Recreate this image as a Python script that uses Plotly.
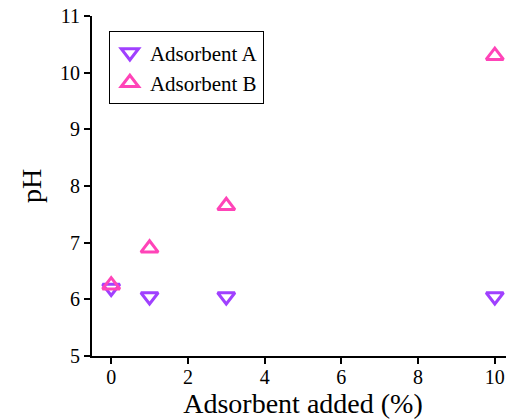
import plotly.graph_objects as go

x_vals = [0, 1, 3, 10]
ph_a = [6.2, 6.05, 6.05, 6.05]
ph_b = [6.25, 6.9, 7.65, 10.3]
x_ticks = [0, 2, 4, 6, 8, 10]
y_ticks = [5, 6, 7, 8, 9, 10, 11]

font_family = "Liberation Serif"

fig = go.Figure()
fig.add_trace(go.Scatter(
    x=x_vals, y=ph_a, mode="markers", name="Adsorbent A",
    marker=dict(symbol="triangle-down-open", size=15, color="#A040FF",
                line=dict(width=3, color="#A040FF")),
    cliponaxis=False,
))
fig.add_trace(go.Scatter(
    x=x_vals, y=ph_b, mode="markers", name="Adsorbent B",
    marker=dict(symbol="triangle-up-open", size=15, color="#FF44B8",
                line=dict(width=3, color="#FF44B8")),
    cliponaxis=False,
))

fig.update_layout(
    width=506, height=412,
    margin=dict(l=84, r=0, t=8, b=64, autoexpand=False),
    paper_bgcolor="white", plot_bgcolor="white",
    font=dict(family=font_family, size=20, color="black"),
    showlegend=True,
    legend=dict(
        x=0.04, y=0.955, xanchor="left", yanchor="top",
        bordercolor="black", borderwidth=1, bgcolor="white",
        font=dict(family=font_family, size=21),
        itemwidth=30, tracegroupgap=0,
    ),
    xaxis=dict(
        range=[-0.5, 10.5], tickvals=x_ticks, showgrid=False, zeroline=False,
        showline=True, linecolor="black", linewidth=2, automargin=False,
        ticks="outside", ticklen=6, tickwidth=2, tickcolor="black",
        ticklabeloverflow="allow", ticklabelstandoff=-4,
        title=dict(text="Adsorbent added (%)", font=dict(family=font_family, size=28), standoff=6),
        tickfont=dict(family=font_family, size=20),
    ),
    yaxis=dict(
        range=[5, 11], tickvals=y_ticks, showgrid=False, zeroline=False,
        showline=True, linecolor="black", linewidth=2, automargin=False,
        ticks="outside", ticklen=6, tickwidth=2, tickcolor="black",
        ticklabeloverflow="allow",
        title=dict(text="pH", font=dict(family=font_family, size=28), standoff=10),
        tickfont=dict(family=font_family, size=20),
    ),
)

fig.write_html("out.html")
